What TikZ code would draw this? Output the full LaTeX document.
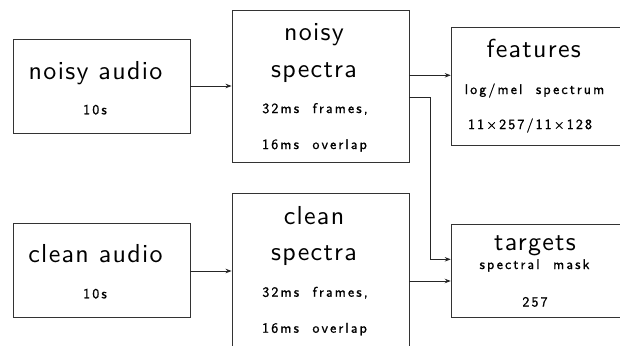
\documentclass[tikz,border=0pt]{standalone}
\usepackage{fontspec}
\usetikzlibrary{arrows.meta}
\newfontfamily\bigfam{lmsans10-regular.otf}[LetterSpace=5]
\newfontfamily\smfam{lmsans10-regular.otf}[LetterSpace=15,WordSpace=2,FakeBold=1.2]
\newcommand{\bigtxt}{\bigfam\fontsize{26}{30}\selectfont}
\newcommand{\smtxt}{\smfam\fontsize{14}{16}\selectfont}
\tikzset{
  box/.style={draw=black!80, line width=0.9pt, minimum width=177pt, inner sep=0pt},
  big/.style={anchor=base, font=\bigtxt, inner sep=0pt},
  small/.style={anchor=base, font=\smtxt, inner sep=0pt},
  arr/.style={-{Stealth[length=6pt,width=4.5pt]}, line width=0.8pt, draw=black!85}
}
\begin{document}
\begin{tikzpicture}[x=1pt,y=-1pt]
\fill[white] (0,0) rectangle (620,345);
\useasboundingbox (0,0) rectangle (620,345);
% boxes
\node[box, minimum height=94pt] (na) at (101.5,86) {};
\node[box, minimum height=152pt] (ns) at (320.5,86) {};
\node[box, minimum height=117.7pt] (ft) at (539.7,86.2) {};
\node[box, minimum height=94pt] (ca) at (101.5,270.3) {};
\node[box, minimum height=154pt] (cs) at (320.5,270.7) {};
\node[box, minimum height=93.3pt] (tg) at (539.7,270.7) {};
% texts
\node[big] (t1) at (95.5,79) {noisy audio};
\node[small] (t2) at (95,114.3) {10s};
\node[big] (t3) at (95.5,262.7) {clean audio};
\node[small] (t4) at (95,298.3) {10s};
\node[big] (t5) at (314,41) {noisy};
\node[big] (t6) at (314,77) {spectra};
\node[small] (t7) at (315,113) {32ms frames,};
\node[small] (t8) at (314.5,149) {16ms overlap};
\node[big] (t9) at (314,224.5) {clean};
\node[big] (t10) at (314,260.7) {spectra};
\node[small] (t11) at (315,296.7) {32ms frames,};
\node[small] (t12) at (314.5,332.7) {16ms overlap};
\node[big] (t13) at (533.7,57.7) {features};
\node[small] (t14) at (534.5,94) {log/mel spectrum};
\node[small] (t15) at (530,129) {11×257/11×128};
\node[big] (t16) at (535,250) {targets};
\node[small] (t17) at (534.5,269) {spectral mask};
\node[small] (t18) at (535,306.5) {257};
% connectors
\coordinate (bend) at (430,97.3);
\draw[arr] (na.east |- 0,86) -- (ns.west |- 0,86);
\draw[arr] (ns.east |- 0,75.3) -- (ft.west |- 0,75.3);
\draw[arr] (ns.east |- bend) -- (bend) |- (tg.west |- 0,259.3);
\draw[arr] (ca.east |- 0,271) -- (cs.west |- 0,271);
\draw[arr] (cs.east |- 0,281) -- (tg.west |- 0,281);
\end{tikzpicture}
\end{document}
